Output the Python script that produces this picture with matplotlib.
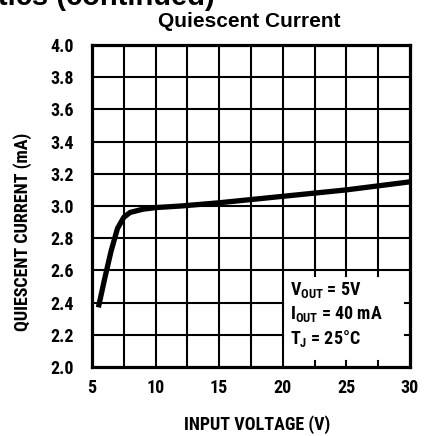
import matplotlib
matplotlib.use('Agg')
import matplotlib.pyplot as plt

# curve
vin = [5.5, 6.0, 6.5, 7.0, 7.5, 8.0, 9.0, 10.0, 12.0, 15.0, 20.0, 25.0, 30.0]
iq = [2.37, 2.55, 2.72, 2.86, 2.93, 2.96, 2.98, 2.99, 3.00, 3.02, 3.06, 3.10, 3.15]

x_ticks = [5, 7.5, 10, 12.5, 15, 17.5, 20, 22.5, 25, 27.5, 30]
x_labels = ['5', '', '10', '', '15', '', '20', '', '25', '', '30']
y_ticks = [2.0, 2.2, 2.4, 2.6, 2.8, 3.0, 3.2, 3.4, 3.6, 3.8, 4.0]
y_labels = ['2.0', '2.2', '2.4', '2.6', '2.8', '3.0', '3.2', '3.4', '3.6', '3.8', '4.0']

cond_lines = [r'$\mathrm{V_{OUT}}$ = 5V', r'$\mathrm{I_{OUT}}$ = 40 mA', r'$\mathrm{T_J}$ = 25°C']

# region of the grid left free for the conditions box
box_x0 = 20
box_y1 = 2.6

narrow = ['Roboto Condensed', 'DejaVu Sans']
plt.rcParams['mathtext.fontset'] = 'custom'
plt.rcParams['mathtext.rm'] = 'Roboto Condensed:bold'
plt.rcParams['mathtext.it'] = 'Roboto Condensed:bold'
plt.rcParams['mathtext.bf'] = 'Roboto Condensed:bold'

fig = plt.figure(figsize=(4.27, 4.36), dpi=100)
ax = fig.add_axes([0.2155, 0.1583, 0.7445, 0.7385])
ax.set_xlim(5, 30)
ax.set_ylim(2.0, 4.0)

gw = 1.5
for x in x_ticks[1:-1]:
    if x > box_x0:
        ax.plot([x, x], [box_y1 - 0.035, 4.0], color='black', lw=gw)
        ax.plot([x, x], [2.0, 2.035], color='black', lw=gw)
    else:
        ax.plot([x, x], [2.0, 4.0], color='black', lw=gw)
for y in y_ticks[1:-1]:
    if y < box_y1:
        ax.plot([5, box_x0], [y, y], color='black', lw=gw)
        ax.plot([29.6, 30], [y, y], color='black', lw=gw)
    else:
        ax.plot([5, 30], [y, y], color='black', lw=gw)

ax.plot(vin, iq, color='black', lw=3.8, solid_capstyle='butt', solid_joinstyle='round')

for s in ax.spines.values():
    s.set_linewidth(2.3)

ax.set_xticks(x_ticks)
ax.set_xticklabels(x_labels)
ax.set_yticks(y_ticks)
ax.set_yticklabels(y_labels)
ax.tick_params(length=0, labelsize=13)
ax.tick_params(axis='x', pad=9)
ax.tick_params(axis='y', pad=13)
for lab in ax.get_xticklabels() + ax.get_yticklabels():
    lab.set_family(narrow)
    lab.set_fontweight('bold')

for i, t in enumerate(cond_lines):
    ax.text(20.55, 2.48 - i * 0.15, t, fontsize=13, fontweight='bold', family=narrow,
            va='center', ha='left')

fig.text(0.052, 0.468, 'QUIESCENT CURRENT (mA)', rotation=90, ha='center', va='center',
         fontsize=13, fontweight='bold', family=narrow)
fig.text(0.601, 0.025, 'INPUT VOLTAGE (V)', ha='center', va='center',
         fontsize=13, fontweight='bold', family=narrow)
fig.text(0.583, 0.951, 'Quiescent Current', ha='center', va='center',
         fontsize=15, fontweight='bold', family=['Liberation Sans', 'DejaVu Sans'])
fig.text(0.503, 0.988, 'Typical Performance Characteristics (continued)', ha='right', va='baseline',
         fontsize=21, fontweight='bold', family=['Liberation Sans', 'DejaVu Sans'])

fig.savefig('out.png', dpi=100)
